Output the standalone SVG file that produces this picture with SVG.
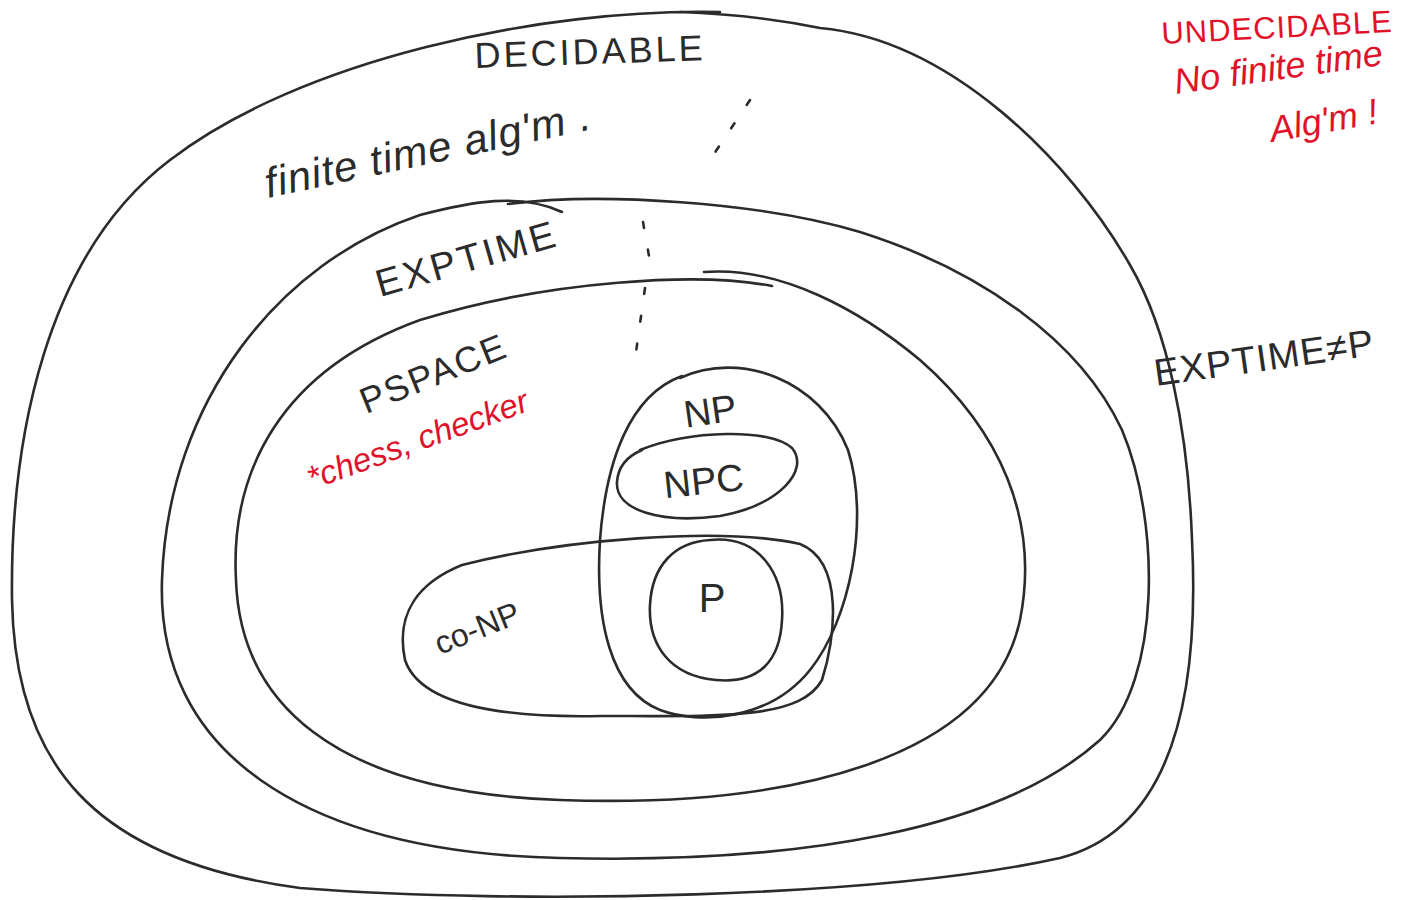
<svg xmlns="http://www.w3.org/2000/svg" width="1408" height="900" viewBox="0 0 1408 900">
<style>
.s{fill:none;stroke:#2b2b2b;stroke-width:2.6;stroke-linecap:round;stroke-linejoin:round}
.d{fill:none;stroke:#2b2b2b;stroke-width:2.6;stroke-linecap:round;stroke-dasharray:6 22}
.t{font-family:"Liberation Sans",Arial,sans-serif;fill:#2b2b2b}
.r{font-family:"Liberation Sans",Arial,sans-serif;fill:#e0122a}
</style>
<rect width="1408" height="900" fill="#fff"/>
<g id="decidable">
<path class="s" d="M 720,12 C 540,8 300,60 170,160 C 45,255 10,440 12,600 C 15,760 90,860 300,888 C 520,905 880,898 1060,858 C 1170,830 1200,700 1192,540 C 1188,430 1168,330 1130,265 C 1070,160 950,40 820,28 C 780,20 740,14 680,12"/>
<text class="t" x="590" y="64" font-size="36" text-anchor="middle" letter-spacing="3" transform="rotate(-2 590 50)">DECIDABLE</text>
<text class="t" x="268" y="198" font-size="42" font-style="italic" letter-spacing="1" transform="rotate(-12 268 198)">finite time alg'm .</text>
</g>
<g id="exptime">
<path class="s" d="M 562,212 C 520,192 470,202 420,215 C 280,262 168,400 162,580 C 156,750 300,852 560,858 C 800,864 1000,830 1100,740 C 1162,680 1160,520 1122,430 C 1080,340 980,270 860,232 C 760,202 600,192 508,204"/>
<text class="t" x="380" y="297" font-size="38" letter-spacing="3" transform="rotate(-16 380 297)">EXPTIME</text>
</g>
<g id="pspace">
<path class="s" d="M 772,286 C 700,272 550,280 420,320 C 282,370 230,470 236,580 C 240,700 330,792 560,800 C 790,808 990,760 1020,620 C 1040,520 1000,430 920,360 C 860,310 780,266 704,272"/>
<text class="t" x="366" y="414" font-size="36" letter-spacing="2" transform="rotate(-22 366 414)">PSPACE</text>
<text class="r" x="312" y="490" font-size="33" font-style="italic" transform="rotate(-20 312 490)">*chess, checker</text>
</g>
<g id="np">
<path class="s" d="M 680,378 C 740,350 820,380 848,450 C 870,520 850,620 810,670 C 770,720 700,725 660,710 C 610,690 595,620 600,540 C 606,460 630,395 682,376"/>
<text class="t" x="712" y="424" font-size="38" text-anchor="middle" transform="rotate(-8 712 424)">NP</text>
</g>
<g id="npc">
<path class="s" d="M 640,450 C 690,430 770,428 792,448 C 810,470 780,505 720,516 C 660,524 615,510 617,482 C 618,466 628,456 642,450"/>
<text class="t" x="705" y="494" font-size="38" text-anchor="middle" transform="rotate(-6 705 494)">NPC</text>
</g>
<g id="conp">
<path class="s" d="M 462,565 C 560,540 720,526 800,544 C 845,562 835,640 822,680 C 800,720 720,716 600,716 C 500,718 420,705 405,660 C 395,612 420,582 462,565"/>
<text class="t" x="440" y="655" font-size="32" transform="rotate(-22 440 655)">co-NP</text>
</g>
<g id="p">
<path class="s" d="M 710,540 C 760,535 785,575 782,620 C 780,660 760,684 716,680 C 670,676 648,645 650,605 C 652,565 675,542 710,540"/>
<text class="t" x="712" y="612" font-size="40" text-anchor="middle">P</text>
</g>
<g id="labels">
<text class="t" x="1156" y="386" font-size="38" letter-spacing="1" transform="rotate(-8 1156 386)">EXPTIME≠P</text>
<text class="r" x="1162" y="44" font-size="31" letter-spacing="1" transform="rotate(-3 1162 44)">UNDECIDABLE</text>
<text class="r" x="1176" y="94" font-size="36" font-style="italic" transform="rotate(-8 1176 94)">No finite time</text>
<text class="r" x="1272" y="142" font-size="36" font-style="italic" transform="rotate(-10 1272 142)">Alg'm !</text>
</g>
<g id="connectors">
<path class="d" d="M 750,100 L 706,166"/>
<path class="d" d="M 643,222 L 649,256"/>
<path class="d" d="M 645,288 L 636,352"/>
</g>
</svg>
